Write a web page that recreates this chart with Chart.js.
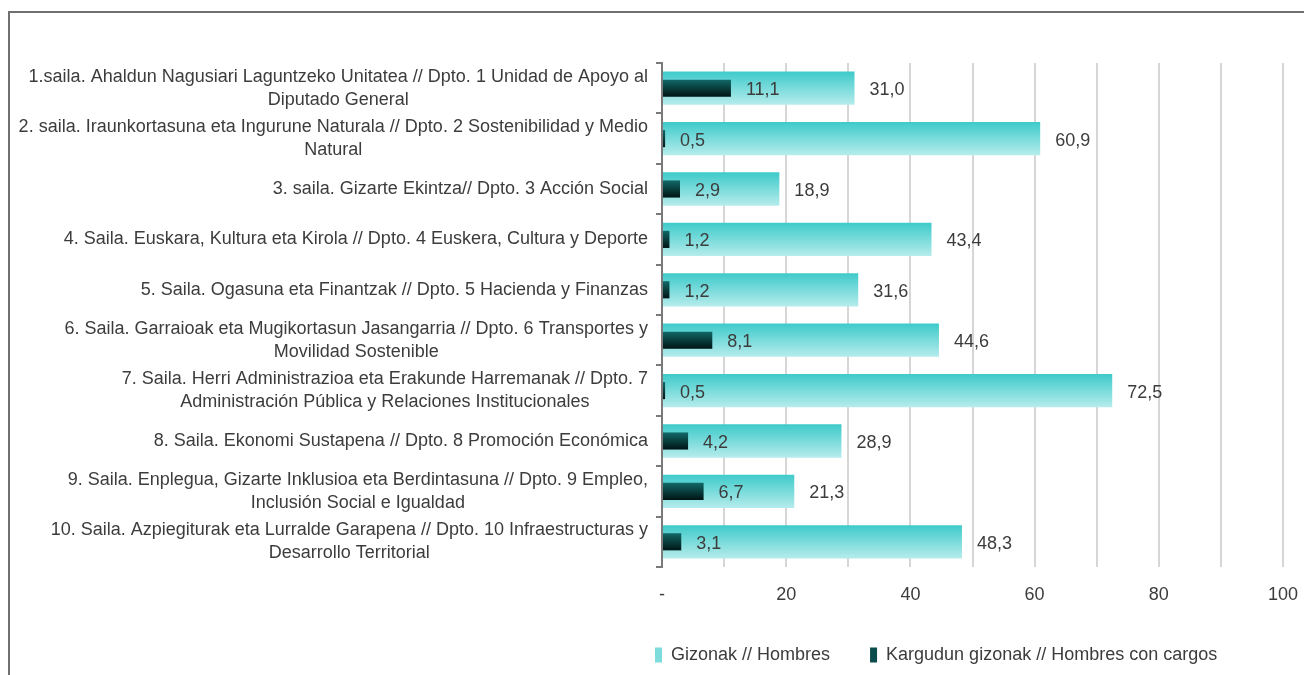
<!DOCTYPE html>
<html>
    <head>
        <title>Gizonak // Hombres</title>
        <script src="https://cdn.jsdelivr.net/npm/chart.js@4"></script>
        <style>
            body { margin: 0; background: #fff; }
            #frame {
                position: absolute; left: 8px; top: 11px;
                width: 1400px; height: 800px;
                border: 2px solid #707070; pointer-events: none;
            }
        </style>
        <script type="text/javascript">
            // category labels, already split in lines like the original
            const categories = [
                ["1.saila. Ahaldun Nagusiari Laguntzeko Unitatea // Dpto. 1 Unidad de Apoyo al", "Diputado General"],
                ["2. saila. Iraunkortasuna eta Ingurune Naturala // Dpto. 2 Sostenibilidad y Medio", "Natural"],
                ["3. saila. Gizarte Ekintza// Dpto. 3 Acción Social"],
                ["4. Saila. Euskara, Kultura eta Kirola // Dpto. 4 Euskera, Cultura y Deporte"],
                ["5. Saila. Ogasuna eta Finantzak // Dpto. 5 Hacienda y Finanzas"],
                ["6. Saila. Garraioak eta Mugikortasun Jasangarria // Dpto. 6 Transportes y", "Movilidad Sostenible"],
                ["7. Saila. Herri Administrazioa eta Erakunde Harremanak // Dpto. 7", "Administración Pública y Relaciones Institucionales"],
                ["8. Saila. Ekonomi Sustapena // Dpto. 8 Promoción Económica"],
                ["9. Saila. Enplegua, Gizarte Inklusioa eta Berdintasuna // Dpto. 9 Empleo,", "Inclusión Social e Igualdad"],
                ["10. Saila. Azpiegiturak eta Lurralde Garapena // Dpto. 10 Infraestructuras y", "Desarrollo Territorial"]
            ];
            const seriesNames = ["Gizonak // Hombres", "Kargudun gizonak // Hombres con cargos"];
            const gizonak = [31.0, 60.9, 18.9, 43.4, 31.6, 44.6, 72.5, 28.9, 21.3, 48.3];
            const kargudun = [11.1, 0.5, 2.9, 1.2, 1.2, 8.1, 0.5, 4.2, 6.7, 3.1];
            const xTickStep = 10;
            const xLabelStep = 20;

            const FONT = '"Liberation Sans", Arial, sans-serif';
            const TEXT = '#3c3c3c';

            document.addEventListener('DOMContentLoaded', init);

            // vertical gradient for one bar, built from the scale position
            function barGradient(ctx, pct, top, bottom) {
                const chart = ctx.chart;
                if (!chart.chartArea) return bottom;
                const y = chart.scales.y;
                const yc = y.getPixelForValue(ctx.dataIndex);
                const h = (y.getPixelForValue(1) - y.getPixelForValue(0)) * pct;
                const g = chart.ctx.createLinearGradient(0, yc - h / 2, 0, yc + h / 2);
                g.addColorStop(0, top);
                g.addColorStop(1, bottom);
                return g;
            }

            // category labels: block right aligned, lines centred on each other
            const catLabels = {
                id: 'catLabels',
                afterDraw(chart) {
                    const ctx = chart.ctx;
                    const y = chart.scales.y;
                    ctx.save();
                    ctx.font = '18px ' + FONT;
                    ctx.fillStyle = TEXT;
                    ctx.textAlign = 'center';
                    ctx.textBaseline = 'middle';
                    const right = y.right - 14;
                    categories.forEach((lines, i) => {
                        const yc = y.getPixelForValue(i);
                        const w = Math.max(...lines.map(l => ctx.measureText(l).width));
                        lines.forEach((l, j) => {
                            ctx.fillText(l, right - w / 2, yc + (j - (lines.length - 1) / 2) * 23);
                        });
                    });
                    ctx.restore();
                }
            };

            // value labels next to the bar ends
            const valueLabels = {
                id: 'valueLabels',
                afterDatasetsDraw(chart) {
                    const ctx = chart.ctx;
                    ctx.save();
                    ctx.font = '18px ' + FONT;
                    ctx.fillStyle = TEXT;
                    ctx.textAlign = 'left';
                    ctx.textBaseline = 'middle';
                    chart.data.datasets.forEach((ds, di) => {
                        const meta = chart.getDatasetMeta(di);
                        meta.data.forEach((el, i) => {
                            const txt = ds.data[i].toFixed(1).replace('.', ',');
                            ctx.fillText(txt, el.x + 15, el.y + 2);
                        });
                    });
                    ctx.restore();
                }
            };

            // move the legend under the plot like in the original
            const legendPlace = {
                id: 'legendPlace',
                afterLayout(chart) {
                    const lg = chart.legend;
                    const pad = lg.options.labels.padding;
                    lg.left = chart.chartArea.left - 7 - pad;
                }
            };

            function init() {
                const ctx = document.getElementById('myChart').getContext('2d');
                new Chart(ctx, {
                    type: 'bar',
                    data: {
                        labels: categories,
                        datasets: [{
                            label: seriesNames[0],
                            data: gizonak,
                            order: 1,
                            grouped: false,
                            categoryPercentage: 1,
                            barPercentage: 0.66,
                            backgroundColor: c => barGradient(c, 0.66, '#3ecaca', '#b6ecec'),
                            borderWidth: 0
                        }, {
                            label: seriesNames[1],
                            data: kargudun,
                            order: 0,
                            grouped: false,
                            categoryPercentage: 1,
                            barPercentage: 0.34,
                            backgroundColor: c => barGradient(c, 0.34, '#126868', '#001414'),
                            borderWidth: 0
                        }]
                    },
                    options: {
                        indexAxis: 'y',
                        responsive: false,
                        animation: false,
                        layout: { padding: { top: 63, right: 21, bottom: 1, left: 0 } },
                        scales: {
                            x: {
                                min: 0,
                                max: 100,
                                afterFit: s => { s.height = 39; },
                                border: { display: false },
                                grid: {
                                    color: '#d6d6d6', lineWidth: 2,
                                    drawTicks: true, tickLength: 14, tickColor: 'rgba(0,0,0,0)'
                                },
                                ticks: {
                                    stepSize: xTickStep,
                                    padding: 3,
                                    color: TEXT,
                                    font: { family: FONT, size: 18 },
                                    maxRotation: 0,
                                    autoSkip: false,
                                    callback: v => v === 0 ? '-' : (v % xLabelStep === 0 ? v : '')
                                }
                            },
                            y: {
                                afterFit: s => { s.width = 662; },
                                border: { display: true, color: '#7a7a7a', width: 2 },
                                grid: { drawOnChartArea: false, color: '#7a7a7a', tickLength: 6, lineWidth: 2 },
                                ticks: { display: false }
                            }
                        },
                        plugins: {
                            tooltip: { enabled: false },
                            legend: {
                                position: 'bottom',
                                align: 'start',
                                labels: {
                                    padding: 40,
                                    boxWidth: 7,
                                    boxHeight: 15,
                                    color: TEXT,
                                    font: { family: FONT, size: 18 },
                                    generateLabels: () => seriesNames.map((t, i) => ({
                                        text: t,
                                        fillStyle: ['#7fdcdc', '#0b4c4c'][i],
                                        strokeStyle: 'rgba(0,0,0,0)',
                                        lineWidth: 0,
                                        fontColor: TEXT,
                                        datasetIndex: i
                                    }))
                                }
                            }
                        }
                    },
                    plugins: [catLabels, valueLabels, legendPlace]
                });
            }
        </script>
    </head>
    <body>
        <canvas id="myChart" width="1304" height="675"></canvas>
        <div id="frame"></div>
    </body>
</html>
